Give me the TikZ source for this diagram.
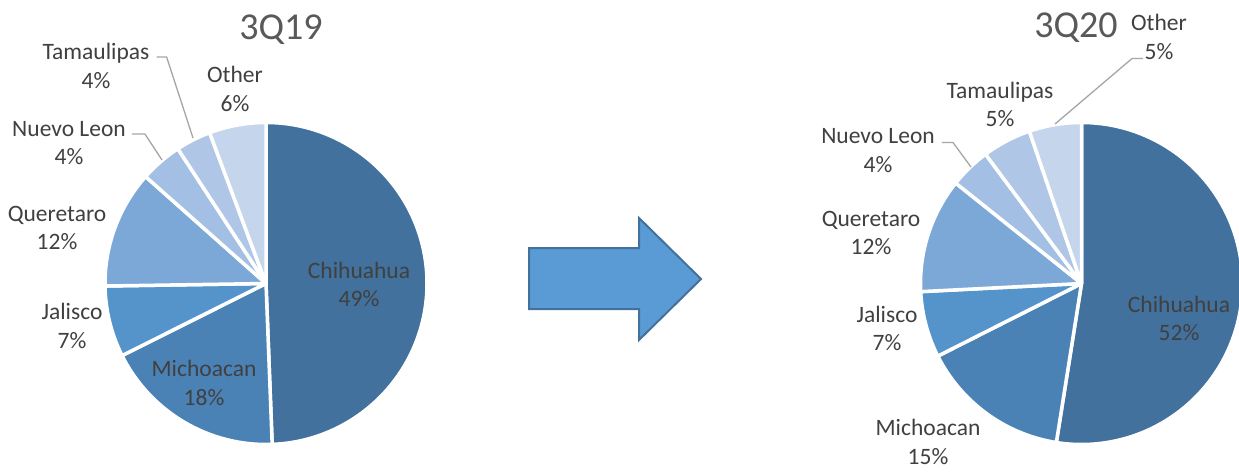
\documentclass[tikz,border=0pt]{standalone}
\usepackage{fontspec}
\setmainfont{Carlito}
\usetikzlibrary{calc}
\definecolor{cA}{HTML}{41719C}
\definecolor{cB}{HTML}{4A82B5}
\definecolor{cC}{HTML}{5593CB}
\definecolor{cD}{HTML}{7CA8D8}
\definecolor{cE}{HTML}{A3BFE3}
\definecolor{cF}{HTML}{AFC6E6}
\definecolor{cG}{HTML}{C5D5EC}
\definecolor{lblgray}{HTML}{404040}
\definecolor{titlegray}{HTML}{595959}
\definecolor{leadgray}{HTML}{A6A6A6}
\definecolor{arrfill}{HTML}{5B9BD5}
\definecolor{arrline}{HTML}{41719C}
\begin{document}
\begin{tikzpicture}[x=1pt,y=-1pt,
  lbl/.style={text=lblgray, font=\fontsize{23.5}{28.2}\selectfont, align=center, inner sep=0pt},
  ttl/.style={text=titlegray, font=\fontsize{38}{45}\selectfont, inner sep=0pt, anchor=base},
  slicestyle/.style={draw=white, line width=3.5pt, line join=round},
  leader/.style={draw=leadgray, line width=1.3pt},
  bigarrow/.style={fill=arrfill, draw=arrline, line width=2pt, line join=miter}]
\useasboundingbox (0,0) rectangle (1239,471);
\fill[white] (0,0) rectangle (1239,471);

% left pie
\coordinate (L) at (266,283.5);
\foreach \a/\b/\c in {-90/87.8/cA, 87.8/153.4/cB, 153.4/179.1/cC, 179.1/221.6/cD, 221.6/236.8/cE, 236.8/249.5/cF, 249.5/270/cG}
  \filldraw[fill=\c, slicestyle] (L) -- ($(L)+(\a:161)$) arc[start angle=\a, end angle=\b, radius=161] -- cycle;

% right pie
\coordinate (R) at (1081.5,283.5);
\foreach \a/\b/\c in {-90/99.0/cA, 99.0/153.2/cB, 153.2/177.1/cC, 177.1/218.6/cD, 218.6/233.4/cE, 233.4/251.1/cF, 251.1/270/cG}
  \filldraw[fill=\c, slicestyle] (R) -- ($(R)+(\a:161)$) arc[start angle=\a, end angle=\b, radius=161] -- cycle;

% titles
\node[ttl] (t1) at (281,39) {3Q19};
\node[ttl] (t2) at (1076,37) {3Q20};

% left labels
\node[lbl] (lchi) at (359,284.5) {Chihuahua\\49\%};
\node[lbl] (lmic) at (204,383) {Michoacan\\18\%};
\node[lbl] (ljal) at (72,326) {Jalisco\\7\%};
\node[lbl] (lque) at (57,228) {Queretaro\\12\%};
\node[lbl] (lnue) at (69,143) {Nuevo Leon\\4\%};
\node[lbl] (ltam) at (96,66) {Tamaulipas\\4\%};
\node[lbl] (loth) at (235,89) {Other\\6\%};

% right labels
\node[lbl] (rchi) at (1179,318.5) {Chihuahua\\52\%};
\node[lbl] (rmic) at (928,442) {Michoacan\\15\%};
\node[lbl] (rjal) at (887,328.5) {Jalisco\\7\%};
\node[lbl] (rque) at (871,233) {Queretaro\\12\%};
\node[lbl] (rnue) at (878,150.5) {Nuevo Leon\\4\%};
\node[lbl] (rtam) at (1000,104.5) {Tamaulipas\\5\%};
\node[lbl] (roth) at (1159,37) {Other\\5\%};

% leader lines
\coordinate (ltamP) at (193,138);
\coordinate (lnueP) at (162,160);
\coordinate (rnueP) at (971,167);
\coordinate (rothP) at (1055,124);
\draw[leader] ([xshift=7pt,yshift=9pt]ltam.east) -- ++(10,0) -- (ltamP);
\draw[leader] ([xshift=6pt,yshift=9pt]lnue.east) -- ++(13,0) -- (lnueP);
\draw[leader] ([xshift=7pt,yshift=8pt]rnue.east) -- ++(11,0) -- (rnueP);
\draw[leader] ([xshift=12pt,yshift=1pt]roth.south west) -- ++(-11,0) -- (rothP);

% arrow
\draw[bigarrow] (529,248) -- (639,248) -- (639,218) -- (701,279) -- (639,340) -- (639,309) -- (529,309) -- cycle;
\end{tikzpicture}
\end{document}
